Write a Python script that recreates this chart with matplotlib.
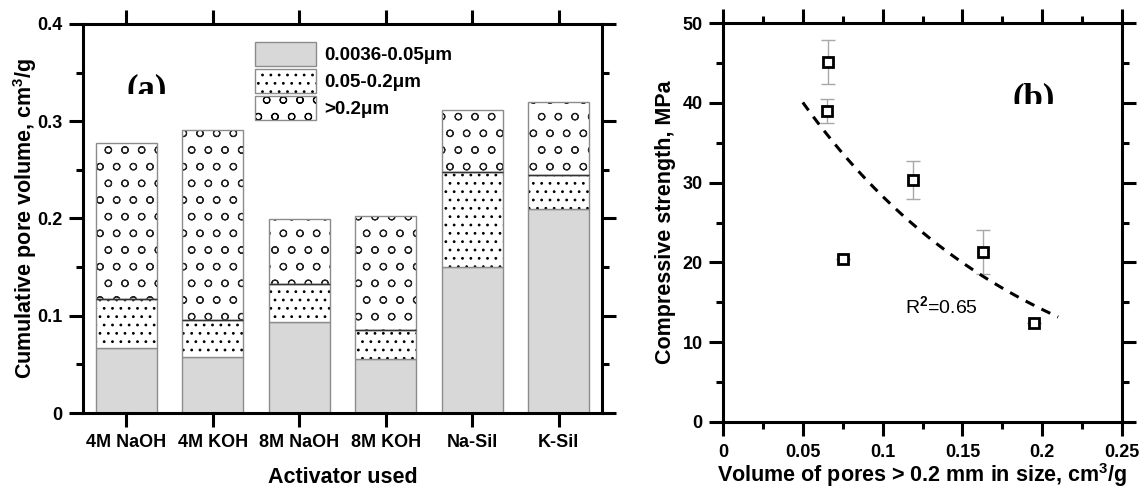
import numpy as np
import matplotlib
matplotlib.use("Agg")
import matplotlib.pyplot as plt
from matplotlib.patches import Patch
from matplotlib.legend_handler import HandlerTuple
from matplotlib.ticker import MultipleLocator, FuncFormatter
from matplotlib.transforms import Bbox, TransformedBbox

plt.rcParams["font.family"] = ["Liberation Sans", "DejaVu Sans"]
plt.rcParams["font.weight"] = "bold"
plt.rcParams["axes.labelweight"] = "bold"
plt.rcParams["mathtext.fontset"] = "custom"
plt.rcParams["mathtext.rm"] = "Liberation Sans"
plt.rcParams["mathtext.bf"] = "Liberation Sans:bold"
plt.rcParams["hatch.linewidth"] = 0.8

# ---- (a) cumulative pore volume by activator (cm3/g) ----
activators = ["4M NaOH", "4M KOH", "8M NaOH", "8M KOH", "Na-Sil", "K-Sil"]
vol_fine = [0.067, 0.058, 0.094, 0.056, 0.150, 0.210]     # 0.0036-0.05 um
vol_medium = [0.050, 0.038, 0.039, 0.029, 0.098, 0.035]   # 0.05-0.2 um
vol_coarse = [0.161, 0.195, 0.066, 0.118, 0.064, 0.075]   # >0.2 um
size_labels = ["0.0036-0.05\u03bcm", "0.05-0.2\u03bcm", ">0.2\u03bcm"]

# ---- (b) compressive strength vs. coarse pore volume ----
coarse_volume = [0.066, 0.065, 0.075, 0.119, 0.163, 0.195]
strength = [45.1, 39.0, 20.4, 30.3, 21.3, 12.4]
strength_err = [2.8, 1.5, 0.0, 2.4, 2.7, 0.0]

W, H = 1145, 491
fig = plt.figure(figsize=(W / 100, H / 100), dpi=100)
ax1 = fig.add_axes([83 / W, 1 - 413 / H, 519 / W, 389 / H])
ax2 = fig.add_axes([723 / W, 1 - 422 / H, 399 / W, 399 / H])

outline = "#8c8c8c"
fine_color = "#d8d8d8"
medium_hatch = ".."
coarse_hatch = "o"
bar_w = 0.7
x = np.arange(1, len(activators) + 1)
fine = np.array(vol_fine)
medium = np.array(vol_medium)
coarse = np.array(vol_coarse)

ax1.bar(x, fine, bar_w, color=fine_color, edgecolor=outline, lw=1, zorder=2)
ax1.bar(x, medium, bar_w, bottom=fine, color="white", edgecolor="black",
        hatch=medium_hatch, lw=0, zorder=2)
ax1.bar(x, medium, bar_w, bottom=fine, fill=False, edgecolor=outline, lw=1, zorder=3)
ax1.bar(x, coarse, bar_w, bottom=fine + medium, color="white", edgecolor="#222222",
        hatch=coarse_hatch, lw=0, zorder=2)
ax1.bar(x, coarse, bar_w, bottom=fine + medium, fill=False, edgecolor=outline,
        lw=1, zorder=3)
# dark separators between the size classes
ax1.hlines(fine + medium, x - bar_w / 2, x + bar_w / 2, color="#333333", lw=1, zorder=4)

ax1.set_xlim(0.5, len(activators) + 0.5)
ax1.set_ylim(0, 0.4)
ax1.set_xticks(x, activators)
ax1.yaxis.set_major_locator(MultipleLocator(0.1))
ax1.yaxis.set_minor_locator(MultipleLocator(0.05))
ax1.yaxis.set_major_formatter(FuncFormatter(lambda v, p: f"{v:g}"))
ax1.set_ylabel(r"Cumulative pore volume, cm$^{\mathbf{3}}$/g", fontsize=15.5)
ax1.set_xlabel("Activator used", fontsize=15.5)
ax1.yaxis.set_label_coords(-0.085, 0.5)
ax1.xaxis.set_label_coords(0.5, -0.138)

handles = []
for fc, hatch in [(fine_color, None), ("white", medium_hatch), ("white", coarse_hatch)]:
    h_fill = Patch(facecolor=fc, edgecolor="black", hatch=hatch, lw=0)
    h_edge = Patch(facecolor="none", edgecolor=outline, lw=1)
    handles.append((h_fill, h_edge))
ax1.legend(handles, size_labels, handler_map={tuple: HandlerTuple(ndivide=1, pad=0)},
           loc="upper left", bbox_to_anchor=(255 / W, 1 - 42 / H),
           bbox_transform=fig.transFigure, frameon=False, borderpad=0,
           borderaxespad=0, handlelength=3.25, handleheight=1.6,
           labelspacing=0.16, handletextpad=0.43,
           prop={"weight": "bold", "size": 13.5})


def panel_tag(label, x_px, base_px, cut_px):
    """Bold serif panel tag whose lower part is cut off at cut_px."""
    t = fig.text(x_px / W, 1 - base_px / H, label, ha="left", va="baseline",
                 fontsize=25, fontweight="bold", family="Liberation Serif")
    t.set_clip_box(TransformedBbox(Bbox([[0, 1 - cut_px / H], [1, 1]]), fig.transFigure))
    t.set_clip_on(True)
    return t


panel_tag("(a)", 126, 98, 94)
panel_tag("(b)", 1012, 107, 104)

# ---- panel (b) ----
ax2.errorbar(coarse_volume, strength, yerr=strength_err, fmt="none",
             ecolor="#a8a8a8", elinewidth=1, capsize=5, capthick=1, zorder=2)
ax2.plot(coarse_volume, strength, ls="none", marker="s", ms=7.5, mfc="white",
         mec="black", mew=2, zorder=3)

# exponential trend fitted to the data
vol = np.array(coarse_volume)
cs = np.array(strength)
slope, icept = np.polyfit(vol, np.log(cs), 1)
pred = icept + slope * vol
r2 = 1 - np.sum((np.log(cs) - pred) ** 2) / np.sum((np.log(cs) - np.log(cs).mean()) ** 2)
xf = np.linspace(0.05, 0.21, 200)
ax2.plot(xf, np.exp(icept + slope * xf), color="black", lw=2.2,
         ls=(0, (3.2, 2.6)), zorder=2)
ax2.text(0.1366, 14.4, r"R$^{\mathrm{2}}$=" + f"{r2:.2f}", ha="center", va="center",
         fontsize=14, fontweight="normal")

ax2.set_xlim(0, 0.25)
ax2.set_ylim(0, 50)
ax2.xaxis.set_major_locator(MultipleLocator(0.05))
ax2.xaxis.set_minor_locator(MultipleLocator(0.025))
ax2.yaxis.set_major_locator(MultipleLocator(10))
ax2.yaxis.set_minor_locator(MultipleLocator(5))
ax2.xaxis.set_major_formatter(FuncFormatter(lambda v, p: f"{v:g}"))
ax2.yaxis.set_major_formatter(FuncFormatter(lambda v, p: f"{v:g}"))
ax2.set_ylabel("Compressive strength, MPa", fontsize=15.5)
ax2.set_xlabel(r"Volume of pores > 0.2 mm in size, cm$^{\mathbf{3}}$/g", fontsize=15.5)
ax2.yaxis.set_label_coords(-0.118, 0.5)
ax2.xaxis.set_label_coords(0.5, -0.098)

for ax in (ax1, ax2):
    for s in ax.spines.values():
        s.set_linewidth(2.2)
    ax.tick_params(which="both", direction="out", width=2.2, top=True, right=True,
                   labelsize=13)
    ax.tick_params(which="major", length=10)
    ax.tick_params(which="minor", length=5)
ax1.tick_params(axis="y", which="major", pad=5)
ax1.tick_params(axis="x", which="major", pad=5)
ax2.tick_params(axis="x", which="major", pad=6)
ax2.tick_params(axis="y", which="major", pad=4.5)

fig.savefig("out.png", dpi=100)
